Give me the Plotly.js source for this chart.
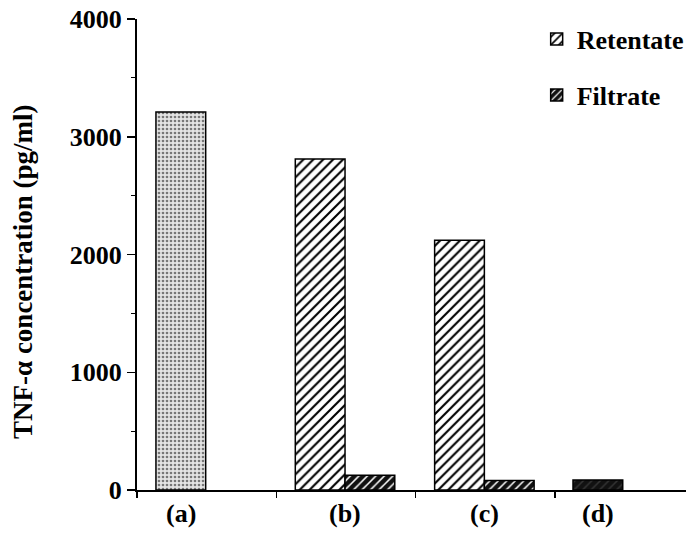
<!DOCTYPE html>
<html>
<head>
<meta charset="utf-8">
<script src="https://cdn.plot.ly/plotly-3.0.1.min.js"></script>
<style>html,body{margin:0;padding:0;background:#fff;}#chart{width:689px;height:551px;}</style>
</head>
<body>
<div id="chart"></div>
<script>
// ---- data ----
var categories = ['(a)', '(b)', '(c)', '(d)'];
var control   = [3210, null, null, null];
var retentate = [null, 2810, 2120, null];
var filtrate  = [null, 125, 80, 85];
var yTickVals = [0, 1000, 2000, 3000, 4000];
var yTickText = ['0', '1000', '2000', '3000', '4000'];
var seriesNames = ['Retentate', 'Filtrate'];
var yTitle = 'TNF-\u03b1 concentration (pg/ml)';

// ---- styles ----
var FONT = 'Liberation Serif, Times New Roman, serif';
var FS = 26;
var BW = 0.357;
var offControl = [-0.364, -0.364, -0.364, -0.364];
var offRet = [-0.364, -0.364, -0.364, -0.364];
var offFil = [-0.007, -0.007, -0.007, -0.371];

var traces = [
  {
    type: 'bar', x: categories, y: control, showlegend: false,
    width: BW, offset: offControl,
    marker: {color: '#d8d8d8', line: {color: '#000', width: 1.5},
      pattern: {shape: '.', bgcolor: '#e4e4e4', fgcolor: '#777', size: 4, solidity: 0.35}}
  },
  {
    type: 'bar', x: categories, y: retentate, name: seriesNames[0], legendgroup: 'r',
    width: BW, offset: offRet,
    marker: {color: '#fff', line: {color: '#000', width: 1.5},
      pattern: {shape: '/', bgcolor: '#fff', fgcolor: '#000', size: 7, solidity: 0.3}}
  },
  {
    type: 'bar', x: categories, y: filtrate, name: seriesNames[1], legendgroup: 'f',
    width: BW, offset: offFil,
    marker: {color: '#111', line: {color: '#000', width: 1.5},
      pattern: {shape: '/', bgcolor: '#111', fgcolor: ['#fff', '#fff', '#fff', '#333'], size: 6, solidity: 0.25}}
  }
];

// category labels centered under the bars present in each category
var annotations = [];
categories.forEach(function (c, i) {
  var centers = [];
  [[control, offControl], [retentate, offRet], [filtrate, offFil]].forEach(function (p) {
    if (p[0][i] !== null && p[0][i] !== undefined) centers.push(i + p[1][i] + BW / 2);
  });
  var cx = centers.reduce(function (a, b) { return a + b; }, 0) / centers.length;
  annotations.push({
    text: c, x: cx, xref: 'x', y: 0, yref: 'paper', yshift: -23,
    xanchor: 'center', yanchor: 'middle', showarrow: false,
    font: {family: FONT, size: FS, color: '#000', weight: 'bold'}
  });
});
annotations.push({
  text: yTitle, textangle: -90, x: 0, xref: 'paper', xshift: -114, xanchor: 'center',
  y: 0.463, yref: 'paper', yanchor: 'middle', showarrow: false,
  font: {family: FONT, size: FS + 1, color: '#000', weight: 'bold'}
});

var layout = {
  width: 689, height: 551,
  margin: {l: 137, r: 0, t: 19, b: 61, pad: 0},
  paper_bgcolor: '#fff', plot_bgcolor: '#fff',
  barmode: 'overlay',
  font: {family: FONT, color: '#000'},
  xaxis: {
    type: 'category', categoryorder: 'array', categoryarray: categories,
    range: [-0.5, 3.44], tickson: 'boundaries', ticks: 'outside', ticklen: 6, tickwidth: 1.5,
    tickcolor: '#000', showticklabels: false, showline: true, linecolor: '#000', linewidth: 2,
    showgrid: false, zeroline: false, fixedrange: true
  },
  yaxis: {
    range: [0, 4000], tickvals: yTickVals, ticktext: yTickText,
    ticks: 'outside', ticklen: 8, tickwidth: 1.5, tickcolor: '#000',
    minor: {dtick: 500, tick0: 0, ticks: 'outside', ticklen: 4, tickwidth: 1.2, tickcolor: '#000', showgrid: false},
    tickfont: {family: FONT, size: FS, color: '#000', weight: 'bold'},
    showline: true, linecolor: '#000', linewidth: 2, showgrid: false, zeroline: false, fixedrange: true
  },
  legend: {
    x: 0.728, xanchor: 'left', y: 1.007, yanchor: 'top',
    bgcolor: 'rgba(0,0,0,0)', borderwidth: 0, tracegroupgap: 19,
    font: {family: FONT, size: FS, color: '#000', weight: 'bold'}
  },
  annotations: annotations
};

Plotly.newPlot('chart', traces, layout, {displayModeBar: false, staticPlot: true});
</script>
</body>
</html>
